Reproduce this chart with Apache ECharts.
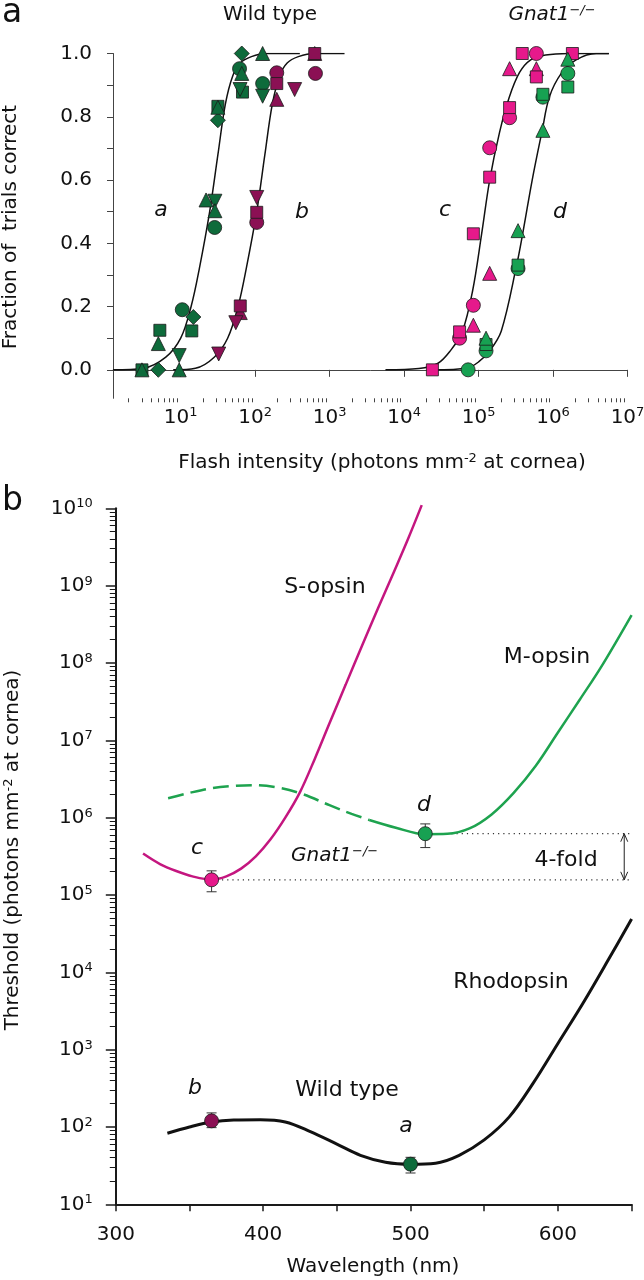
<!DOCTYPE html>
<html><head><meta charset="utf-8">
<script src="https://cdn.jsdelivr.net/npm/echarts@6/dist/echarts.min.js"></script>
<style>html,body{margin:0;padding:0;background:#fff}#c{width:644px;height:1280px}</style>
</head><body><div id="c"></div>
<script>
// ================= DATA =================
// Panel a: [flash intensity (photons mm^-2 at cornea), fraction of trials correct]
const aExponents = [1, 2, 3, 4, 5, 6, 7];
const fracTicks = [0, 0.1, 0.2, 0.3, 0.4, 0.5, 0.6, 0.7, 0.8, 0.9, 1.0];
const fracLabels = [0, 0.2, 0.4, 0.6, 0.8, 1.0];

// Wild type, curve a (dark green)
const wtA_circle   = [[10.5,0.19],[28.6,0.45],[61.7,0.952],[126,0.905]];
const wtA_square   = [[3.02,0.0],[5.25,0.125],[14.1,0.123],[31.6,0.833],[67.6,0.878]];
const wtA_triUp    = [[3.02,0.0],[5.01,0.083],[9.55,0.0],[21.9,0.537],[28.8,0.503],[31.6,0.83],[66.1,0.937],[126,1.0]];
const wtA_triDown  = [[9.55,0.045],[28.8,0.533],[62.7,0.886],[126,0.865]];
const wtA_diamond  = [[5.01,0.0],[14.8,0.167],[31.6,0.789],[66.1,1.0]];
// Wild type, curve b (maroon)
const wtB_circle   = [[105,0.466],[195,0.939],[645,0.937]];
const wtB_square   = [[63.1,0.202],[105,0.498],[195,0.905],[631,1.0]];
const wtB_triUp    = [[63.1,0.181],[195,0.855],[631,1.0]];
const wtB_triDown  = [[32.4,0.05],[55.0,0.149],[105,0.545],[339,0.886]];
// Gnat1-/-, curve c (pink)
const koC_square   = [[2.40e4,0.0],[5.56e4,0.12],[8.51e4,0.43],[1.41e5,0.609],[2.61e5,0.829],[3.86e5,1.0],[5.97e5,0.926],[1.82e6,1.0]];
const koC_circle   = [[5.56e4,0.10],[8.51e4,0.204],[1.41e5,0.702],[2.61e5,0.797],[5.97e5,1.0]];
const koC_triUp    = [[8.51e4,0.141],[1.41e5,0.305],[2.61e5,0.952],[5.97e5,0.952]];
// Gnat1-/-, curve d (green)
const koD_circle   = [[7.24e4,0.0],[1.26e5,0.06],[3.39e5,0.32],[7.31e5,0.862],[1.58e6,0.937]];
const koD_square   = [[1.26e5,0.08],[3.39e5,0.331],[7.31e5,0.871],[1.58e6,0.894]];
const koD_triUp    = [[1.26e5,0.10],[3.39e5,0.44],[7.31e5,0.757],[1.58e6,0.982]];

// Fitted curves
const curveA_I = [1.23,3.16,6.31,10,13.8,17.8,24.5,31.6,39.8,50.1,63.1,89.1,141,398];
const curveA_F = [0,0.005,0.04,0.10,0.2,0.32,0.5,0.68,0.84,0.93,0.97,0.99,1.0,1.0];
const curveB_I = [7.94,15.8,28.2,42.7,58.9,75.9,105,135,170,214,269,380,631,1585];
const curveB_F = [0,0.005,0.04,0.10,0.2,0.32,0.5,0.68,0.84,0.93,0.97,0.99,1.0,1.0];
const curveC_I = [5.62e3,1.58e4,2.82e4,4.17e4,6.03e4,8.32e4,1.10e5,1.41e5,1.91e5,2.57e5,3.55e5,5.01e5,7.94e5,1.58e6,5.62e6];
const curveC_F = [0,0.004,0.02,0.06,0.12,0.25,0.43,0.60,0.75,0.86,0.94,0.98,0.995,1.0,1.0];
const curveD_I = [2.51e4,7.08e4,1.0e5,1.41e5,2.02e5,3.24e5,3.98e5,5.25e5,7.16e5,8.91e5,1.29e6,2.04e6,3.80e6,5.62e6];
const curveD_F = [0,0.006,0.025,0.06,0.123,0.33,0.44,0.60,0.757,0.862,0.937,0.98,1.0,1.0];

// Panel b: threshold (photons mm^-2 at cornea) vs wavelength (nm)
const bExponents = [1,2,3,4,5,6,7,8,9,10];
const rhodoNm  = [335,350,365,380,398,415,432,450,466,483,500,517,533,550,567,583,600,617,634,650];
const rhodoThr = [83,100,116,123,124,116,87,60,43,35,33,34,43,68,135,363,1202,3981,14290,48980];
const sOpsNm   = [318.5,330,341,352,365,375,385,395,405,415,425,435,445,456,467,478,489,498,507.6];
const sOpsThr  = [3.43e5,2.51e5,2.04e5,1.74e5,1.58e5,1.74e5,2.19e5,3.16e5,5.25e5,1.0e6,2.14e6,5.75e6,1.66e7,5.25e7,1.66e8,5.13e8,1.55e9,3.89e9,1.10e10];
const mOpsDashNm  = [335.5,350,365,380,393,410,426,445,460,472];
const mOpsDashThr = [1.78e6,2.09e6,2.40e6,2.57e6,2.63e6,2.45e6,2.04e6,1.45e6,1.12e6,9.33e5];
const mOpsNm   = [472,490,510,525,540,555,570,585,600,615,630,650];
const mOpsThr  = [9.33e5,7.41e5,6.10e5,6.17e5,7.24e5,1.10e6,2.09e6,4.68e6,1.26e7,3.39e7,9.33e7,4.17e8];
// Threshold points: [nm, threshold, lower, upper]
const ptC = [365, 1.57e5, 1.10e5, 2.05e5];
const ptD = [510, 6.2e5, 4.1e5, 8.3e5];
const ptB = [365, 120, 98, 152];
const ptA = [500, 33, 25.4, 40.5];
const refLineEnd = 650;     // dotted reference lines end (nm)
const arrowNm = 645;        // 4-fold arrow position (nm)

// ================= STYLE =================
const FONT = '"DejaVu Sans", "Liberation Sans", Arial, sans-serif';
const C_WT_G = '#0e6b3b', C_WT_M = '#8b1054', C_KO_P = '#e6198b', C_KO_G = '#17a152';
const C_SOPS = '#c4167f', C_MOPS = '#1ea34f';
const L = Math.log10;
const logPts = arr => arr.map(p => [L(p[0]), p[1]]);
const zipLogX = (xs, ys) => xs.map((x, i) => [L(x), ys[i]]);
const zipLogY = (xs, ys) => xs.map((x, i) => [x, L(ys[i])]);

const minorA = [];
for (let n = 0; n < 7; n++) for (let k = 2; k <= 9; k++) { const v = n + L(k); if (v > 0.091) minorA.push(v); }
const minorB = [];
for (let n = 1; n < 10; n++) for (let k = 2; k <= 9; k++) minorB.push(n + L(k));

const supRich = (c) => ({
  b: { fontSize: 20, lineHeight: 22, fontFamily: FONT, color: c },
  s: { fontSize: 13, lineHeight: 13, verticalAlign: 'top', fontFamily: FONT, color: c }
});

function scatter(data, sym, color, xi, yi, extra) {
  return Object.assign({
    type: 'scatter', xAxisIndex: xi, yAxisIndex: yi, data: data,
    symbol: sym, symbolSize: 14, clip: false, z: 5,
    itemStyle: { color: color, borderColor: '#1a1a1a', borderWidth: 0.8, opacity: 1 },
    emphasis: { disabled: true }
  }, extra || {});
}
function aScat(arr, sym, color, extra) { return scatter(logPts(arr), sym, color, 0, 0, extra); }
function curveA(xs, ys) {
  return { type: 'line', xAxisIndex: 0, yAxisIndex: 0, data: zipLogX(xs, ys), smooth: 0.35,
    symbol: 'none', lineStyle: { color: '#111', width: 1.5 }, z: 2, emphasis: { disabled: true } };
}
function curveB(xs, ys, color, width, type, clip) {
  return { type: 'line', xAxisIndex: 2, yAxisIndex: 1, data: zipLogY(xs, ys), smooth: 0.35,
    symbol: 'none', clip: clip !== false, lineStyle: { color: color, width: width, type: type || 'solid' }, z: 2,
    emphasis: { disabled: true } };
}

const series = [
  curveA(curveA_I, curveA_F), curveA(curveB_I, curveB_F), curveA(curveC_I, curveC_F), curveA(curveD_I, curveD_F),
  aScat(wtA_square, 'rect', C_WT_G, { symbolSize: 12 }),
  aScat(wtA_diamond, 'diamond', C_WT_G, { symbolSize: 15 }),
  aScat(wtA_circle, 'circle', C_WT_G),
  aScat(wtA_triDown, 'triangle', C_WT_G, { symbolRotate: 180 }),
  aScat(wtA_triUp, 'triangle', C_WT_G),
  aScat(wtB_circle, 'circle', C_WT_M),
  aScat(wtB_triUp, 'triangle', C_WT_M),
  aScat(wtB_square, 'rect', C_WT_M, { symbolSize: 12 }),
  aScat(wtB_triDown, 'triangle', C_WT_M, { symbolRotate: 180 }),
  aScat(koC_circle, 'circle', C_KO_P),
  aScat(koC_triUp, 'triangle', C_KO_P),
  aScat(koC_square, 'rect', C_KO_P, { symbolSize: 12 }),
  aScat(koD_circle, 'circle', C_KO_G),
  aScat(koD_square, 'rect', C_KO_G, { symbolSize: 12 }),
  aScat(koD_triUp, 'triangle', C_KO_G),
  // panel b curves
  curveB(rhodoNm, rhodoThr, '#111', 3),
  curveB(sOpsNm, sOpsThr, C_SOPS, 2.5, 'solid', false),
  curveB(mOpsDashNm, mOpsDashThr, C_MOPS, 2.5, [16, 7]),
  curveB(mOpsNm, mOpsThr, C_MOPS, 2.5),
  // dotted reference lines
  { type: 'line', xAxisIndex: 2, yAxisIndex: 1, data: [[ptC[0], L(ptC[1])], [refLineEnd, L(ptC[1])]],
    symbol: 'none', lineStyle: { color: '#333', width: 1.2, type: [1.2, 4] }, z: 1 },
  { type: 'line', xAxisIndex: 2, yAxisIndex: 1, data: [[ptD[0], L(ptD[1])], [refLineEnd, L(ptD[1])]],
    symbol: 'none', lineStyle: { color: '#333', width: 1.2, type: [1.2, 4] }, z: 1 },
  // 4-fold arrow
  { type: 'custom', xAxisIndex: 2, yAxisIndex: 1, data: [[arrowNm, L(ptD[1]), L(ptC[1])]], z: 3,
    renderItem: function (params, api) {
      const x = api.value(0);
      const p1 = api.coord([x, api.value(1)]), p2 = api.coord([x, api.value(2)]);
      const h = 8, w = 3.5, st = { stroke: '#222', lineWidth: 1, fill: null };
      return { type: 'group', children: [
        { type: 'line', shape: { x1: p1[0], y1: p1[1], x2: p2[0], y2: p2[1] }, style: st },
        { type: 'polyline', shape: { points: [[p1[0]-w, p1[1]+h], [p1[0], p1[1]], [p1[0]+w, p1[1]+h]] }, style: st },
        { type: 'polyline', shape: { points: [[p2[0]-w, p2[1]-h], [p2[0], p2[1]], [p2[0]+w, p2[1]-h]] }, style: st }
      ]};
    } },
  // error bars
  { type: 'custom', xAxisIndex: 2, yAxisIndex: 1, z: 4,
    data: [ptC, ptD, ptB, ptA].map(p => [p[0], L(p[2]), L(p[3])]),
    renderItem: function (params, api) {
      const x = api.value(0);
      const lo = api.coord([x, api.value(1)]), hi = api.coord([x, api.value(2)]);
      const w = 5, st = { stroke: '#333', lineWidth: 1 };
      return { type: 'group', children: [
        { type: 'line', shape: { x1: lo[0], y1: lo[1], x2: hi[0], y2: hi[1] }, style: st },
        { type: 'line', shape: { x1: lo[0]-w, y1: lo[1], x2: lo[0]+w, y2: lo[1] }, style: st },
        { type: 'line', shape: { x1: hi[0]-w, y1: hi[1], x2: hi[0]+w, y2: hi[1] }, style: st }
      ]};
    } },
  scatter([[ptC[0], L(ptC[1])]], 'circle', C_KO_P, 2, 1, { z: 6 }),
  scatter([[ptD[0], L(ptD[1])]], 'circle', C_KO_G, 2, 1, { z: 6 }),
  scatter([[ptB[0], L(ptB[1])]], 'circle', C_WT_M, 2, 1, { z: 6 }),
  scatter([[ptA[0], L(ptA[1])]], 'circle', C_WT_G, 2, 1, { z: 6 })
];

// ================= TEXT =================
function T(x, y, text, o) {
  o = o || {};
  const st = {
    text: text, fontFamily: FONT, fontSize: o.size || 20, fontStyle: o.italic ? 'italic' : 'normal',
    fill: o.color || '#111', align: o.align || 'center', textAlign: o.align || 'center',
    verticalAlign: 'middle', textVerticalAlign: 'middle'
  };
  if (o.rich) st.rich = o.rich;
  return { type: 'text', x: x, y: y, rotation: o.rot || 0, z: 100, style: st };
}
const titleRich = {
  t: { fontSize: 20, lineHeight: 22, fontFamily: FONT, color: '#111' },
  s: { fontSize: 13, lineHeight: 13, verticalAlign: 'top', fontFamily: FONT, color: '#111' }
};
const gnatRich = {
  i: { fontSize: 20, lineHeight: 22, fontFamily: FONT, fontStyle: 'italic', color: '#111' },
  s: { fontSize: 13, lineHeight: 13, verticalAlign: 'top', fontFamily: FONT, fontStyle: 'italic', color: '#111' }
};
const graphics = [
  T(2, 13, 'a', { size: 33, align: 'left' }),
  T(270, 15, 'Wild type'),
  T(552, 15, '{i|Gnat1}{s|\u2212/\u2212}', { rich: gnatRich }),
  T(161, 210, 'a', { italic: true, size: 22 }),
  T(302, 212, 'b', { italic: true, size: 22 }),
  T(445, 210, 'c', { italic: true, size: 22 }),
  T(560, 212, 'd', { italic: true, size: 22 }),
  T(11, 227, 'Fraction of  trials correct', { rot: Math.PI / 2, size: 20 }),
  T(382, 463, '{t|Flash intensity (photons mm}{s|-2}{t| at cornea)}', { rich: titleRich }),
  T(2, 501, 'b', { size: 33, align: 'left' }),
  T(13, 850, '{t|Threshold (photons mm}{s|-2}{t| at cornea)}', { rich: titleRich, rot: Math.PI / 2 }),
  T(373, 1267, 'Wavelength (nm)', { size: 20 }),
  T(325, 587, 'S-opsin', { size: 22 }),
  T(547, 657, 'M-opsin', { size: 22 }),
  T(197, 848, 'c', { italic: true, size: 22 }),
  T(291, 856, '{i|Gnat1}{s|\u2212/\u2212}', { rich: gnatRich, align: 'left' }),
  T(424, 805, 'd', { italic: true, size: 22 }),
  T(566, 860, '4-fold', { size: 22 }),
  T(511, 982, 'Rhodopsin', { size: 22 }),
  T(347, 1090, 'Wild type', { size: 22 }),
  T(195, 1088, 'b', { italic: true, size: 22 }),
  T(406, 1126, 'a', { italic: true, size: 22 })
];

// ================= CHART =================
const chart = echarts.init(document.getElementById('c'), null, { renderer: 'canvas' });
const axA = '#444', axB = '#1a1a1a';
chart.setOption({
  animation: false,
  backgroundColor: '#fff',
  grid: [
    { left: 113, top: 53.5, width: 514.5, height: 344.8, outerBoundsMode: 'none', containLabel: false },
    { left: 115.8, top: 508.3, width: 515.8, height: 696, outerBoundsMode: 'none', containLabel: false }
  ],
  xAxis: [
    { gridIndex: 0, type: 'value', min: 0.091, max: 7, position: 'bottom',
      axisLine: { lineStyle: { color: axA, width: 1 } },
      axisTick: { customValues: aExponents, length: 7, lineStyle: { color: axA, width: 1 } },
      axisLabel: { customValues: aExponents, margin: 8, formatter: v => '{b|10}{s|' + v + '}', rich: supRich('#111') },
      splitLine: { show: false } },
    { gridIndex: 0, type: 'value', min: 0.091, max: 7, position: 'bottom',
      axisLine: { show: false },
      axisTick: { customValues: minorA, length: 4, lineStyle: { color: axA, width: 1 } },
      axisLabel: { show: false }, splitLine: { show: false } },
    { gridIndex: 1, type: 'value', min: 300, max: 650, interval: 50, position: 'bottom',
      axisLine: { lineStyle: { color: axB, width: 2 } },
      axisTick: { length: 7, lineStyle: { color: axB, width: 1.5 } },
      axisLabel: { margin: 20, color: '#111', fontFamily: FONT, fontSize: 20,
        formatter: v => (v % 100 === 0 ? String(v) : '') },
      splitLine: { show: false } }
  ],
  yAxis: [
    { gridIndex: 0, type: 'value', min: -0.09, max: 1.0, position: 'left',
      axisLine: { lineStyle: { color: axA, width: 1 } },
      axisTick: { customValues: fracTicks, length: 6, lineStyle: { color: axA, width: 1 } },
      axisLabel: { customValues: fracLabels, margin: 21, color: '#111', fontFamily: FONT, fontSize: 20,
        formatter: v => Number(v).toFixed(1) },
      splitLine: { show: false } },
    { gridIndex: 1, type: 'value', min: 1, max: 10, interval: 1, position: 'left',
      axisLine: { lineStyle: { color: axB, width: 2 } },
      axisTick: { length: 10, lineStyle: { color: axB, width: 1.5 } },
      axisLabel: { margin: 23, formatter: v => '{b|10}{s|' + v + '}', rich: supRich('#111') },
      splitLine: { show: false } },
    { gridIndex: 1, type: 'value', min: 1, max: 10, position: 'left',
      axisLine: { show: false },
      axisTick: { customValues: minorB, length: 6, lineStyle: { color: axB, width: 1 } },
      axisLabel: { show: false }, splitLine: { show: false } }
  ],
  series: series,
  graphic: { elements: graphics }
});
</script></body></html>
